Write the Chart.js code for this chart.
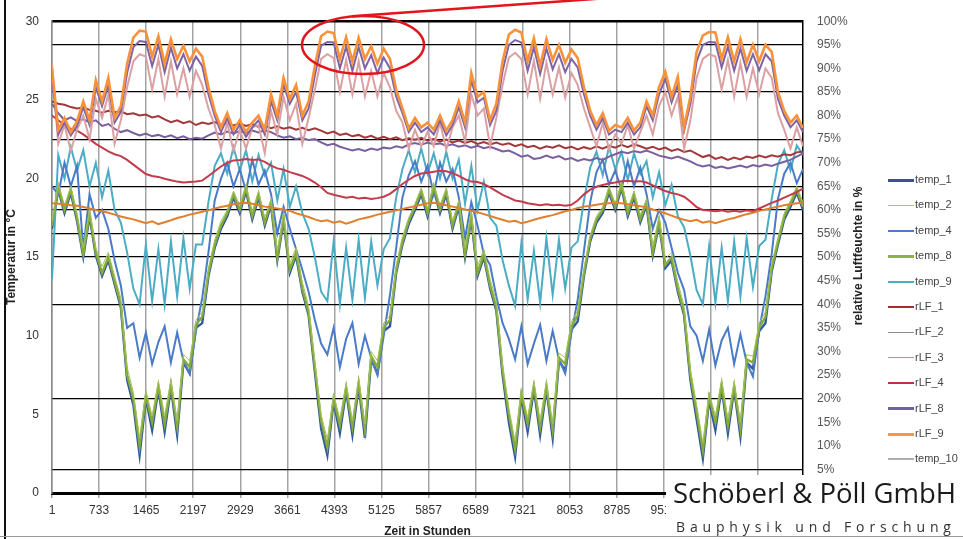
<!DOCTYPE html>
<html>
<head>
<meta charset="utf-8">
<script src="https://cdn.jsdelivr.net/npm/chart.js@4.4.1/dist/chart.umd.min.js"></script>
<style>
  html, body { margin: 0; padding: 0; background: #fff; }
  #wrap { position: relative; width: 963px; height: 539px; overflow: hidden; background: #fff; }
  #chart { position: absolute; left: 0; top: 0; }
  .leg { position: absolute; left: 888px; font: 11px "Liberation Sans", Arial, sans-serif; color: #444; white-space: nowrap; }
  .leg .sw { position: absolute; left: 0; width: 26px; }
  .leg .tx { position: absolute; left: 27px; top: -7px; }
  #rtitle { position: absolute; left: 858px; top: 256px; transform: translate(-50%, -50%) rotate(-90deg);
            font: bold 12px "Liberation Sans", Arial, sans-serif; color: #222; white-space: nowrap; }
  #logo { position: absolute; left: 666px; top: 475px; width: 297px; height: 64px; background: #fff; }
  #logo .name { position: absolute; left: 7px; top: -1px; font: 27.5px "Open Sans", sans-serif; color: #1a1a1a; white-space: nowrap; }
  #logo .sub { position: absolute; left: 10px; top: 42px; font: 14px "Open Sans", sans-serif; color: #333; white-space: nowrap; letter-spacing: 4.85px; }
  #frameL { position: absolute; left: 4px; top: 0; width: 2px; height: 539px; background: #111; }
  #frameB { position: absolute; left: 0; top: 536px; width: 963px; height: 1px; background: #999; }
</style>
</head>
<body>
<div id="wrap">
  <canvas id="chart" width="963" height="539"></canvas>
  <div id="rtitle">relative Luftfeuchte in %</div>
  <div id="legend"></div>
  <div id="logo">
    <div class="name">Schöberl &amp; Pöll GmbH</div>
    <div class="sub">Bauphysik und Forschung</div>
  </div>
  <div id="frameL"></div>
  <div id="frameB"></div>
</div>
<script>
// sampling grid: 30 samples per 2920 h cycle, 4 cycles
const hours = Array.from({ length: 121 }, (_, i) => 1 + i * 2920 / 30);
const tickHours = [1, 733, 1465, 2197, 2929, 3661, 4393, 5125, 5857, 6589, 7321, 8053, 8785, 9517, 10249, 10981];
const rhGridLines = [100, 95, 85, 75, 65, 60, 55, 50, 40, 20, 5];

// temperatures in °C (left axis)
const temp_1 = [
  16.8, 19.3, 17.8, 19.1, 17.3, 15.0, 17.6, 15.1, 13.8, 14.8, 13.3, 11.8, 7.2, 5.6, 2.4, 6.0, 4.0, 6.6, 3.9, 6.7, 3.7, 8.3, 7.6, 10.5, 10.8, 13.8, 15.6, 16.8, 17.6, 18.8,
  17.8, 19.2, 17.4, 18.8, 17.0, 18.3, 14.8, 17.3, 14.0, 15.1, 12.8, 11.3, 7.7, 4.1, 2.4, 5.8, 3.8, 6.5, 3.7, 6.8, 3.5, 8.5, 7.6, 10.3, 10.6, 14.0, 15.8, 17.1, 18.0, 19.0,
  17.6, 19.3, 17.8, 19.0, 16.8, 18.2, 15.0, 17.4, 13.8, 15.0, 13.0, 11.6, 7.5, 4.5, 2.3, 6.1, 3.9, 6.6, 3.7, 6.6, 3.5, 8.4, 7.8, 10.4, 10.9, 13.8, 16.0, 17.2, 17.8, 19.1,
  18.0, 19.4, 17.6, 18.8, 17.2, 18.3, 15.1, 17.1, 14.3, 14.8, 12.8, 11.3, 7.2, 4.7, 2.2, 5.9, 4.0, 6.7, 3.8, 6.6, 3.6, 8.3, 7.9, 10.3, 10.8, 14.1, 15.8, 17.4, 18.2, 19.1,
  18.0
];
const temp_2 = [
  17.3, 19.7, 18.3, 19.5, 17.8, 15.6, 18.0, 15.6, 14.4, 15.3, 13.8, 12.4, 8.0, 6.4, 3.5, 6.5, 4.9, 7.1, 4.9, 7.2, 4.6, 8.8, 8.4, 11.0, 11.5, 14.3, 16.1, 17.3, 18.0, 19.2,
  18.3, 19.6, 17.9, 19.2, 17.5, 18.7, 15.4, 17.8, 14.6, 15.6, 13.4, 11.9, 8.4, 5.0, 3.4, 6.3, 4.7, 7.0, 4.6, 7.3, 4.4, 9.0, 8.4, 10.8, 11.3, 14.5, 16.3, 17.5, 18.4, 19.4,
  18.1, 19.7, 18.3, 19.4, 17.3, 18.6, 15.6, 17.9, 14.4, 15.5, 13.6, 12.2, 8.2, 5.4, 3.3, 6.6, 4.8, 7.1, 4.6, 7.1, 4.4, 8.9, 8.6, 10.9, 11.6, 14.3, 16.4, 17.6, 18.2, 19.5,
  18.4, 19.8, 18.1, 19.2, 17.7, 18.7, 15.7, 17.6, 14.9, 15.3, 13.4, 11.9, 7.9, 5.6, 3.2, 6.4, 4.9, 7.2, 4.7, 7.1, 4.5, 8.8, 8.7, 10.8, 11.5, 14.6, 16.2, 17.8, 18.6, 19.5,
  18.5
];
const temp_4 = [
  19.5, 19.0, 21.0, 19.5, 20.8, 15.5, 19.0, 17.5, 18.0, 16.8, 14.8, 13.2, 10.5, 10.8, 8.6, 10.2, 8.2, 9.6, 10.6, 8.3, 10.2, 8.4, 7.6, 10.3, 12.4, 15.3, 18.6, 20.0, 21.0, 19.5,
  20.6, 19.2, 21.2, 19.6, 20.5, 19.0, 16.5, 18.2, 16.8, 15.5, 14.2, 12.8, 11.0, 9.5, 8.8, 10.5, 8.0, 9.8, 10.8, 8.2, 10.0, 8.6, 7.5, 10.0, 12.6, 15.6, 18.8, 20.2, 21.1, 19.8,
  20.8, 19.0, 21.0, 19.8, 20.6, 18.8, 16.2, 18.5, 17.0, 15.2, 14.5, 12.5, 10.8, 9.8, 8.5, 10.6, 8.2, 9.5, 10.7, 8.4, 10.3, 8.5, 7.6, 10.2, 12.3, 15.4, 18.5, 20.4, 21.2, 19.6,
  20.5, 19.3, 21.1, 19.5, 20.7, 19.0, 16.8, 18.0, 17.2, 15.6, 14.0, 12.9, 10.6, 10.0, 8.4, 10.4, 8.1, 9.7, 10.5, 8.2, 10.1, 8.3, 7.4, 10.4, 12.5, 15.2, 18.7, 20.3, 21.0, 19.7,
  20.6
];
const temp_8 = [
  17.0, 19.5, 18.0, 19.3, 17.5, 15.2, 17.8, 15.3, 14.0, 15.0, 13.5, 12.0, 7.5, 6.0, 3.0, 6.2, 4.5, 6.8, 4.4, 6.9, 4.2, 8.5, 8.0, 10.7, 11.2, 14.0, 15.8, 17.0, 17.8, 19.0,
  18.0, 19.4, 17.6, 19.0, 17.2, 18.5, 15.0, 17.5, 14.2, 15.3, 13.0, 11.5, 8.0, 4.6, 2.9, 6.0, 4.3, 6.7, 4.2, 7.0, 4.0, 8.7, 8.0, 10.5, 11.0, 14.2, 16.0, 17.3, 18.2, 19.2,
  17.8, 19.5, 18.0, 19.2, 17.0, 18.4, 15.2, 17.6, 14.0, 15.2, 13.2, 11.8, 7.8, 5.0, 2.8, 6.3, 4.4, 6.8, 4.2, 6.8, 4.0, 8.6, 8.2, 10.6, 11.3, 14.0, 16.2, 17.4, 18.0, 19.3,
  18.2, 19.6, 17.8, 19.0, 17.4, 18.5, 15.3, 17.3, 14.5, 15.0, 13.0, 11.5, 7.5, 5.2, 2.7, 6.1, 4.5, 6.9, 4.3, 6.8, 4.1, 8.5, 8.3, 10.5, 11.2, 14.3, 16.0, 17.6, 18.4, 19.3,
  18.2
];
const temp_9 = [
  13.6, 21.5, 20.0, 22.0, 20.5, 21.8, 19.5, 21.0, 18.8, 20.5, 18.0, 17.2, 15.3, 13.0, 12.0, 15.8, 12.2, 15.5, 12.0, 16.0, 12.5, 16.2, 13.0, 15.8, 15.8, 18.5, 20.8, 21.6, 20.3, 22.0,
  20.5, 21.8, 19.8, 21.5, 20.2, 21.0, 18.6, 20.6, 18.2, 19.5, 17.8, 16.8, 15.0, 12.8, 12.2, 16.0, 12.0, 15.6, 12.3, 16.1, 12.4, 16.0, 13.2, 15.5, 16.2, 18.8, 20.6, 21.8, 20.4, 21.9,
  20.3, 21.6, 20.0, 21.7, 20.0, 21.2, 18.4, 20.8, 18.0, 19.8, 17.5, 17.0, 14.8, 13.2, 11.9, 15.9, 12.3, 15.4, 12.1, 16.2, 12.6, 16.1, 13.0, 15.6, 16.0, 18.6, 20.7, 21.7, 20.2, 22.0,
  20.6, 21.7, 19.9, 21.6, 20.3, 21.1, 18.8, 20.4, 18.3, 19.6, 17.6, 16.9, 15.1, 12.9, 12.0, 15.7, 12.1, 15.6, 12.2, 16.0, 12.5, 16.2, 13.1, 15.7, 16.1, 18.7, 20.9, 21.8, 20.5, 22.1,
  21.5
];

// relative humidity in % (right axis)
const rLF_1 = [
  83.0, 82.5, 82.3, 81.8, 81.5, 81.7, 81.2, 81.0, 80.6, 81.0, 80.7, 80.9, 80.3, 80.5, 80.0, 80.2, 79.6, 79.9, 79.2, 78.6,
  79.0, 78.4, 78.8, 78.0, 78.5, 78.2, 78.6, 78.0, 78.4, 77.9, 78.3, 77.8, 78.2, 77.6, 77.9, 77.3, 77.7, 77.2, 77.5, 77.0,
  77.4, 76.9, 77.3, 76.8, 76.2, 76.6, 75.9, 76.2, 75.6, 75.9, 75.3, 75.7, 75.1, 75.5, 75.0, 75.4, 74.8, 75.2, 74.9, 75.3,
  74.7, 75.0, 74.5, 74.9, 74.3, 74.7, 74.2, 74.6, 74.0, 74.4, 73.9, 74.3, 73.8, 74.1, 73.5, 73.9, 73.3, 73.6, 73.0, 73.5,
  73.2, 73.7, 73.1, 73.4, 72.8, 73.3, 72.9, 73.5, 73.0, 73.6, 73.2, 73.8, 73.3, 73.9, 73.5, 73.0, 73.4, 72.8, 73.2, 72.5,
  72.9, 72.3, 72.6, 71.9, 71.2, 71.6, 70.8, 71.2, 70.6, 71.1, 70.7, 71.3, 71.0, 71.5, 71.1, 71.6, 71.3, 71.8, 71.6, 72.2,
  72.4
];
const rLF_2 = [
  82.5, 80.5, 79.0, 79.6, 78.8, 79.2, 78.6, 79.0, 77.8, 78.2, 77.2, 76.5, 76.9, 76.3, 75.8, 76.2, 75.6, 75.9, 75.4, 75.8,
  75.2, 75.6, 75.0, 75.3, 75.1, 75.8, 76.4, 76.0, 76.6, 76.2, 76.7, 76.3, 76.8, 76.4, 76.9, 76.5, 75.8, 75.3, 75.6, 75.0,
  75.3, 74.8, 75.0, 74.3, 73.7, 74.0, 73.4, 73.0, 72.6, 72.9, 72.5, 73.0, 72.7, 73.2, 73.0, 73.5, 73.2, 73.9, 74.2, 73.8,
  74.3, 73.9, 74.1, 73.6, 73.9, 73.4, 73.7, 73.2, 73.6, 73.1, 73.4, 72.9, 72.4, 72.6, 72.0, 71.3, 71.6, 70.8, 71.0, 71.5,
  71.0, 71.4, 70.7, 71.0, 70.4, 70.8, 70.5, 71.0, 70.6, 71.3, 71.8, 72.3, 72.0, 72.5, 72.2, 72.6, 72.1, 71.5, 71.2, 70.9,
  71.3, 70.8, 70.3, 69.6, 69.2, 69.5, 68.9, 69.2, 68.8, 69.1, 69.4, 69.0, 69.5, 69.2, 69.6, 69.3, 69.8, 70.2, 70.6, 71.3,
  72.0
];
const rLF_3 = [
  61.4, 61.3, 61.2, 61.0, 60.9, 60.6, 60.3, 60.0, 59.7, 59.4, 59.0, 58.6, 58.3, 58.0, 57.6, 57.2, 57.6, 57.0, 57.4, 57.8,
  58.3, 58.6, 59.0, 59.3, 59.6, 59.9, 60.3, 60.6, 60.9, 61.2, 61.4, 61.5, 61.3, 61.0, 60.7, 60.5, 60.3, 60.1, 59.8, 59.3,
  58.9, 58.5, 58.0, 57.6, 57.8, 57.3, 57.6, 57.1, 57.5, 58.0, 58.3, 58.6, 59.0, 59.3, 59.6, 59.9, 60.2, 60.5, 60.8, 61.1,
  61.4, 61.5, 61.3, 61.0, 60.7, 60.4, 60.1, 59.8, 59.5, 59.1, 58.7, 58.3, 57.9, 57.5, 57.7, 57.2, 57.5, 57.9, 58.3, 58.6,
  58.9, 59.3, 59.7, 60.0, 60.4, 60.7, 60.9, 61.1, 61.3, 61.4, 61.5, 61.4, 61.2, 61.0, 60.8, 60.5, 60.1, 59.7, 59.3, 58.8,
  58.3, 57.9, 57.6, 57.9, 57.3, 57.6, 57.2, 57.6, 58.0, 58.3, 58.7, 59.1, 59.4, 59.8, 60.1, 60.4, 60.7, 61.0, 61.2, 61.4,
  61.5
];
const rLF_4 = [
  80.0, 79.0, 78.0, 77.2, 76.8, 76.0, 75.0, 74.0, 73.2, 72.4, 71.8, 71.4, 70.6, 69.6, 68.6, 67.6, 67.2, 67.0, 66.6, 66.3,
  66.0, 65.8, 65.9, 66.0, 66.2, 67.2, 68.2, 69.2, 70.0, 70.5, 70.6, 70.8, 70.6, 70.7, 70.2, 69.4, 68.8, 68.5, 68.0, 67.6,
  67.2, 66.6, 65.8, 64.8, 63.6, 63.2, 62.9, 62.6, 62.8, 62.4, 62.6, 62.3, 62.5, 62.8, 63.4, 64.4, 65.5, 66.4, 67.2, 67.7,
  67.9, 68.1, 68.3, 68.2, 67.8, 67.2, 66.5, 66.0, 65.9, 65.5, 64.8, 64.0, 63.2, 62.6, 62.0, 61.8, 61.4, 61.2, 61.0, 61.2,
  61.0, 61.1, 60.9, 61.1, 62.0, 63.3, 64.3, 64.9, 65.3, 65.6, 65.8, 66.1, 66.2, 66.0, 66.1, 65.8, 65.2, 64.6, 64.0, 63.6,
  63.3, 62.8, 61.8, 60.6, 60.0, 59.9, 59.7, 59.9, 59.6, 59.8, 59.6, 59.9, 59.8, 60.3, 60.9, 61.5, 62.0, 62.6, 63.2, 63.8,
  64.5
];
const rLF_8 = [
  88.0, 76.0, 78.5, 75.8, 77.8, 81.8, 78.0, 86.0, 82.0, 86.5, 78.5, 80.8, 89.0, 94.5, 95.8, 95.6, 90.5, 95.0, 89.2, 94.4, 90.0, 93.0, 89.5, 92.5, 90.5, 84.5, 80.0, 76.5, 79.5, 76.0,
  78.0, 75.5, 77.5, 79.0, 76.0, 83.0, 79.0, 86.5, 82.5, 85.0, 79.0, 81.5, 88.5, 94.8, 95.6, 95.5, 90.0, 94.6, 89.5, 94.5, 90.0, 92.8, 89.0, 92.3, 90.0, 84.0, 80.5, 76.5, 78.5, 76.5,
  77.5, 76.0, 79.0, 75.8, 78.0, 81.8, 77.5, 87.5, 82.8, 83.8, 78.0, 81.0, 89.5, 95.0, 96.0, 95.5, 89.5, 94.5, 88.8, 94.2, 89.8, 93.0, 89.2, 92.0, 90.2, 84.5, 80.0, 77.0, 79.5, 76.0,
  77.0, 76.5, 78.5, 76.0, 77.5, 82.0, 79.0, 84.5, 87.8, 82.8, 86.5, 76.8, 82.5, 91.5, 95.0, 95.6, 95.5, 90.2, 94.6, 89.5, 94.2, 89.5, 93.0, 89.6, 93.0, 91.5, 83.5, 80.0, 77.5, 79.0,
  76.5
];
const rLF_9 = [
  90.0, 77.0, 79.5, 76.5, 78.8, 83.0, 79.0, 87.5, 83.0, 88.0, 79.5, 82.0, 91.0, 96.5, 98.0, 97.8, 92.5, 96.8, 91.0, 96.2, 92.0, 94.8, 91.5, 94.2, 92.5, 86.0, 81.0, 77.5, 80.5, 77.0,
  79.0, 76.5, 78.5, 80.0, 77.0, 84.5, 80.0, 88.0, 83.5, 86.5, 80.0, 83.0, 90.5, 96.8, 97.8, 97.5, 92.0, 96.6, 91.5, 96.5, 92.0, 94.7, 91.0, 94.2, 92.0, 85.5, 81.5, 77.3, 79.5, 77.5,
  78.5, 77.0, 80.0, 76.8, 79.0, 83.0, 78.5, 89.0, 84.0, 85.0, 79.0, 82.5, 91.5, 97.2, 98.2, 97.6, 91.5, 96.4, 90.5, 96.2, 91.8, 95.0, 91.2, 94.0, 92.2, 86.0, 81.0, 78.0, 80.5, 76.8,
  78.0, 77.5, 79.5, 76.8, 78.5, 83.0, 80.0, 86.0, 89.3, 84.0, 88.2, 77.5, 84.0, 93.5, 97.0, 97.7, 97.6, 92.0, 96.6, 91.5, 96.2, 91.3, 95.0, 91.5, 95.0, 93.5, 85.0, 81.0, 78.5, 80.0,
  77.3
];
const temp_10 = [
  91.0, 74.0, 78.0, 72.5, 77.0, 80.0, 75.0, 83.5, 79.5, 84.5, 74.0, 79.0, 86.0, 91.5, 93.0, 92.5, 85.5, 92.0, 84.0, 91.5, 84.5, 90.0, 84.0, 89.5, 86.5, 81.5, 78.0, 73.0, 78.5, 72.5,
  77.0, 73.0, 77.5, 78.0, 72.0, 81.0, 76.0, 84.0, 79.0, 82.5, 74.0, 79.5, 85.5, 92.0, 93.0, 92.2, 85.0, 91.8, 84.5, 91.5, 84.0, 89.5, 84.0, 89.0, 86.0, 81.0, 78.5, 73.0, 77.0, 73.5,
  76.5, 73.5, 78.5, 72.8, 77.5, 80.0, 74.5, 84.5, 80.0, 81.5, 73.5, 79.5, 86.5, 92.3, 93.3, 92.0, 84.5, 91.6, 83.5, 91.2, 84.5, 90.2, 83.8, 89.0, 86.5, 81.5, 77.5, 73.5, 78.5, 72.8,
  76.0, 74.0, 78.0, 73.0, 76.5, 80.0, 76.0, 82.0, 85.0, 80.0, 84.0, 73.0, 79.0, 88.0, 92.0, 93.0, 92.5, 85.5, 91.8, 84.0, 91.2, 84.0, 90.0, 84.5, 90.0, 88.0, 80.5, 77.0, 73.0, 77.5,
  73.5
];

// legend as in the picture
const legendLabels = ["temp_1", "temp_2", "temp_4", "temp_8", "temp_9", "rLF_1", "rLF_2", "rLF_3", "rLF_4", "rLF_8", "rLF_9", "temp_10"];
const legendColors = ["#2F5597", "#A9C46A", "#4A7BC8", "#8DB33F", "#4BACC6", "#A0302D", "#8C8C8C", "#E8806A", "#C0304A", "#7060A8", "#F79646", "#ADADAD"];
const legendWidths = [3, 1, 2.5, 3, 2, 1.5, 1.5, 1, 2.5, 2.5, 3, 2];

const pts = (vals) => vals.map((v, i) => ({ x: hours[i], y: v }));
const mk = (label, vals, color, width, axis, order) => ({
  label, data: pts(vals), borderColor: color, borderWidth: width,
  yAxisID: axis, order, pointRadius: 0, fill: false, tension: 0
});

const datasets = [
  mk("temp_1", temp_1, "#2F5A9C", 2.4, "y", 12),
  mk("temp_2", temp_2, "#A4C25E", 1, "y", 8),
  mk("temp_4", temp_4, "#4A7BC8", 2, "y", 10),
  mk("temp_8", temp_8, "#87AA3C", 2.4, "y", 9),
  mk("temp_9", temp_9, "#4BACC6", 2, "y", 11),
  mk("rLF_1", rLF_1, "#A3373A", 2, "y1", 4),
  mk("rLF_2", rLF_2, "#7A5FA0", 2, "y1", 5),
  mk("rLF_3", rLF_3, "#E0802F", 2, "y1", 7),
  mk("rLF_4", rLF_4, "#C43B4B", 2, "y1", 6),
  mk("rLF_8", rLF_8, "#7E63A6", 2, "y1", 2),
  mk("rLF_9", rLF_9, "#F7923A", 2.6, "y1", 1),
  mk("temp_10", temp_10, "#DBA0A2", 2, "y1", 3)
];

// red ellipse marking and pointer line
const marker = {
  id: "marker",
  afterDraw(chart) {
    const c = chart.ctx;
    c.save();
    c.strokeStyle = "#E3141C";
    c.lineWidth = 2.5;
    c.beginPath();
    c.ellipse(363, 45, 61, 29, 0, 0, Math.PI * 2);
    c.stroke();
    c.beginPath();
    c.moveTo(352, 16.3);
    c.lineTo(600, -1.4);
    c.stroke();
    c.restore();
  }
};

const tickFont = { family: "Liberation Sans, Arial, sans-serif", size: 12 };

new Chart(document.getElementById("chart"), {
  type: "line",
  data: { datasets },
  options: {
    responsive: false,
    animation: false,
    devicePixelRatio: 1,
    layout: { padding: { left: 0, right: 93, top: 17, bottom: 0 } },
    plugins: { legend: { display: false }, tooltip: { enabled: false } },
    scales: {
      x: {
        type: "linear", min: 1, max: 11681,
        afterBuildTicks: (s) => { s.ticks = tickHours.map(v => ({ value: v })); },
        afterFit: (s) => { s.height = 46; },
        ticks: { autoSkip: false, maxRotation: 0, padding: 5, color: "#333", font: tickFont,
                 callback: (v) => String(v) },
        grid: { color: "#A3A3A3", lineWidth: 1.5, tickLength: 5 },
        border: { color: "#000", width: 3 },
        title: { display: true, text: "Zeit in Stunden", color: "#222",
                 font: { family: "Liberation Sans, Arial, sans-serif", size: 12, weight: "bold" },
                 padding: { top: 0, bottom: 0 } }
      },
      y: {
        position: "left", min: 0, max: 30,
        afterFit: (s) => { s.width = 52; },
        ticks: { stepSize: 5, padding: 13, color: "#333", font: tickFont },
        grid: { drawOnChartArea: false, drawTicks: false },
        border: { display: true, color: "#8a8a8a", width: 1.5 },
        title: { display: true, text: "Temperatur in °C", color: "#222",
                 font: { family: "Liberation Sans, Arial, sans-serif", size: 12, weight: "bold" },
                 padding: { top: 4, bottom: 0 } }
      },
      y1: {
        position: "right", min: 0, max: 100,
        afterFit: (s) => { s.width = 67; },
        ticks: { stepSize: 5, padding: 14, color: "#555", font: tickFont, callback: (v) => v + "%" },
        grid: {
          drawTicks: false,
          color: (ctx) => rhGridLines.includes(ctx.tick.value) ? "#000" : "rgba(0,0,0,0)",
          lineWidth: (ctx) => ctx.tick.value === 100 ? 2.5 : 1.3
        },
        border: { display: true, color: "#000", width: 1.5 }
      }
    }
  },
  plugins: [marker]
});

// legend
const legendBox = document.getElementById("legend");
legendLabels.forEach((lab, i) => {
  const item = document.createElement("div");
  item.className = "leg";
  item.style.top = (180 + i * 25.4) + "px";
  item.innerHTML = '<div class="sw" style="top:' + (-legendWidths[i] / 2) + 'px;height:' + legendWidths[i] +
    'px;background:' + legendColors[i] + '"></div><div class="tx">' + lab + '</div>';
  legendBox.appendChild(item);
});
</script>
</body>
</html>
